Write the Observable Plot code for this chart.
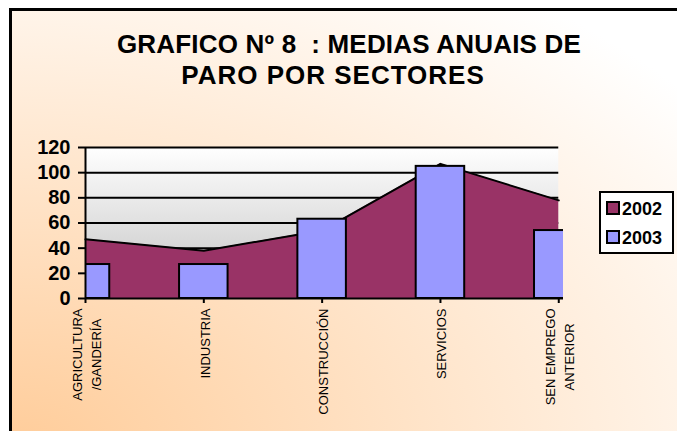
<!DOCTYPE html>
<html>
<head>
<meta charset="utf-8">
<script src="https://cdn.jsdelivr.net/npm/d3@7"></script>
<script src="https://cdn.jsdelivr.net/npm/@observablehq/plot@0.6"></script>
<style>
  html, body { margin: 0; padding: 0; background: #fff; }
  #wrap { position: relative; width: 677px; height: 431px; overflow: hidden; background: #fff;
          font-family: "Liberation Sans", Arial, sans-serif; }
  #bg { position: absolute; left: 9px; top: 8px; width: 690px; height: 440px;
        border-left: 3px solid #000; border-top: 3px solid #000;
        background: radial-gradient(ellipse farthest-corner at 0% 100%, #FFCC99 0%, #FFFFFF 90%); }
  .tl { position: absolute; font-weight: bold; font-size: 26px; white-space: pre; color: #000;
        transform: translateX(-50%); line-height: 1; }
  #chart { position: absolute; left: 0; top: 0; }
  #legend { position: absolute; left: 599px; top: 191px; width: 71px; height: 59px;
            background: #fff; border: 2px solid #000; }
  .li { position: absolute; left: 5px; font-weight: bold; font-size: 18px; line-height: 1; }
  .sw { display: inline-block; width: 10px; height: 10px; border: 2px solid #000; vertical-align: 0px; margin-right: 2px; }
</style>
</head>
<body>
<div id="wrap">
  <div id="bg"></div>
  <div class="tl" id="t1" style="left:349px; top:31px; letter-spacing:0.2px;"></div>
  <div class="tl" id="t2" style="left:333px; top:62px; letter-spacing:1px;"></div>
  <div id="chart"></div>
  <div id="legend"></div>
</div>
<script>
const titleLines = ["GRAFICO Nº 8  : MEDIAS ANUAIS DE", "PARO POR SECTORES"];
const categories = ["AGRICULTURA\n/GANDERÍA", "INDUSTRIA", "CONSTRUCCIÓN", "SERVICIOS", "SEN EMPREGO\nANTERIOR"];
const series = ["2002", "2003"];
const values2002 = [47, 38, 54, 107, 78];
const values2003 = [27, 27, 63, 105, 54];
const yTicks = [0, 20, 40, 60, 80, 100, 120];
const colors = {"2002": "#993366", "2003": "#9999FF"};

document.getElementById("t1").textContent = titleLines[0];
document.getElementById("t2").textContent = titleLines[1];

const idx = categories.map((d, i) => i);
const last = categories.length - 1;
const barHalf = 0.205;

const defs = () => {
  const g = d3.create("svg:defs");
  const lg = g.append("linearGradient").attr("id", "pbg").attr("x1", 0).attr("y1", 0).attr("x2", 0).attr("y2", 1);
  lg.append("stop").attr("offset", "0%").attr("stop-color", "#ffffff");
  lg.append("stop").attr("offset", "100%").attr("stop-color", "#c2c2c2");
  return g.node();
};

const chart = Plot.plot({
  width: 677,
  height: 431,
  marginLeft: 85,
  marginRight: 114,
  marginTop: 147,
  marginBottom: 133,
  x: {domain: [0, last + 0.04], axis: null},
  y: {domain: [0, 120], axis: null},
  style: {background: "transparent", fontFamily: "'Liberation Sans', Arial, sans-serif", overflow: "visible", color: "#000"},
  marks: [
    defs,
    Plot.rect([0], {x1: 0, x2: last, y1: 0, y2: 120, fill: "url(#pbg)"}),
    Plot.ruleY(yTicks.filter(d => d > 0), {x1: 0, x2: last, stroke: "#000", strokeWidth: 2}),
    Plot.areaY(values2002, {x: (d, i) => i, y: d => d, fill: colors["2002"]}),
    Plot.lineY(values2002, {x: (d, i) => i, y: d => d, stroke: "#000", strokeWidth: 2}),
    Plot.rectY(values2003, {x1: (d, i) => i - barHalf, x2: (d, i) => i + barHalf, y1: 0, y2: d => d,
      fill: colors["2003"], stroke: "#000", strokeWidth: 2, clip: true}),
    Plot.ruleX([0], {y1: 0, y2: 120, stroke: "#000", strokeWidth: 2}),
    Plot.ruleY([0], {x1: 0, x2: last + 0.04, stroke: "#000", strokeWidth: 2}),
    Plot.axisY({ticks: yTicks, tickSize: 7, tickPadding: 8, fontSize: 20, fontWeight: "bold",
      strokeWidth: 2, color: "#000", label: null}),
    Plot.axisX({ticks: idx, tickFormat: i => categories[i], tickRotate: -90, tickSize: 5, tickPadding: 5,
      fontSize: 13, lineHeight: 1.45, strokeWidth: 2, color: "#000", label: null})
  ]
});
document.getElementById("chart").appendChild(chart);

// center the lines of multi-line category labels
chart.querySelectorAll('g[aria-label="x-axis tick label"] text').forEach(t => {
  const spans = t.querySelectorAll("tspan");
  if (spans.length > 1) {
    const lens = Array.from(spans, s => s.getComputedTextLength());
    const L = Math.max(...lens);
    spans.forEach((s, k) => s.setAttribute("x", -(L - lens[k]) / 2));
  }
});

// legend
const leg = document.getElementById("legend");
series.forEach((s, k) => {
  const item = document.createElement("div");
  item.className = "li";
  item.style.top = (7 + k * 29) + "px";
  const sw = document.createElement("span");
  sw.className = "sw";
  sw.style.background = colors[s];
  item.appendChild(sw);
  item.appendChild(document.createTextNode(s));
  leg.appendChild(item);
});
</script>
</body>
</html>
